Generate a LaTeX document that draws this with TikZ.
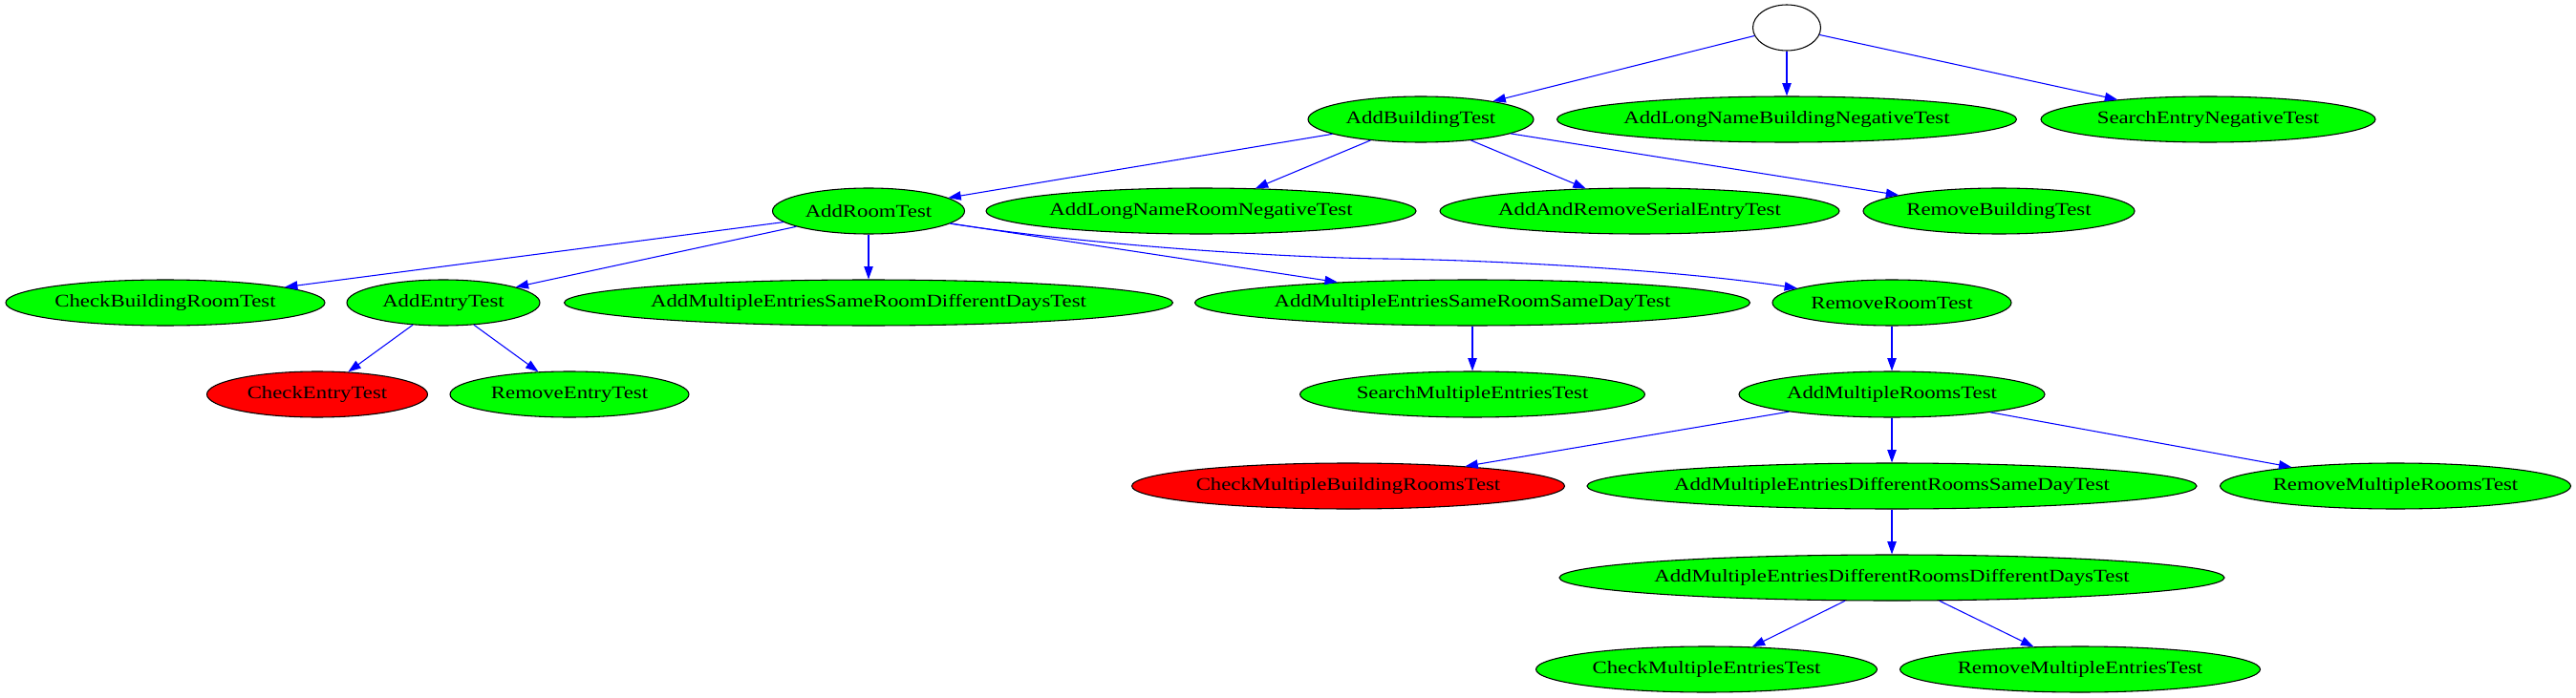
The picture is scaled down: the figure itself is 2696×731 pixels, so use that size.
\documentclass[tikz,border=0pt]{standalone}
\usepackage{fontspec}
\setmainfont{Liberation Serif}[FakeStretch=1.22]
\usetikzlibrary{shapes.geometric,arrows.meta}

\newcommand\tlbl[1]{\makebox[0pt]{#1}}

\tikzset{
  testnode/.style={
    ellipse, draw=black, line width=0.8pt, inner sep=0pt,
    minimum height=36pt, font=\fontsize{14}{16}\selectfont
  },
  testok/.style={testnode, fill=green},
  testfail/.style={testnode, fill=red},
  wd/.style={minimum width=#1*0.75pt},
  depedge/.style={draw=blue, line width=0.8pt, -{Triangle[length=10pt,width=7pt]}}
}

\begin{document}
\begin{tikzpicture}[x=0.75pt,y=-0.75pt]
\useasboundingbox (0,0) rectangle (2696,731);

\node[testnode, fill=white, wd=71] (root) at (1870,29) {};

\node[testok, wd=236] (AddBuildingTest) at (1487,125) {\tlbl{AddBuildingTest}};
\node[testok, wd=481] (AddLongNameBuildingNegativeTest) at (1870,125) {\tlbl{AddLongNameBuildingNegativeTest}};
\node[testok, wd=350] (SearchEntryNegativeTest) at (2311,125) {\tlbl{SearchEntryNegativeTest}};

\node[testok, wd=201] (AddRoomTest) at (909,221) {\tlbl{AddRoomTest}};
\node[testok, wd=450] (AddLongNameRoomNegativeTest) at (1257,221) {\tlbl{AddLongNameRoomNegativeTest}};
\node[testok, wd=418] (AddAndRemoveSerialEntryTest) at (1716,221) {\tlbl{AddAndRemoveSerialEntryTest}};
\node[testok, wd=284] (RemoveBuildingTest) at (2092,221) {\tlbl{RemoveBuildingTest}};

\node[testok, wd=334] (CheckBuildingRoomTest) at (173,317) {\tlbl{CheckBuildingRoomTest}};
\node[testok, wd=202] (AddEntryTest) at (464,317) {\tlbl{AddEntryTest}};
\node[testok, wd=637] (AddMultipleEntriesSameRoomDifferentDaysTest) at (909,317) {\tlbl{AddMultipleEntriesSameRoomDifferentDaysTest}};
\node[testok, wd=581] (AddMultipleEntriesSameRoomSameDayTest) at (1541,317) {\tlbl{AddMultipleEntriesSameRoomSameDayTest}};
\node[testok, wd=250] (RemoveRoomTest) at (1980,317) {\tlbl{RemoveRoomTest}};

\node[testfail, wd=231] (CheckEntryTest) at (332,413) {\tlbl{CheckEntryTest}};
\node[testok, wd=250] (RemoveEntryTest) at (596,413) {\tlbl{RemoveEntryTest}};
\node[testok, wd=361] (SearchMultipleEntriesTest) at (1541,413) {\tlbl{SearchMultipleEntriesTest}};
\node[testok, wd=320] (AddMultipleRoomsTest) at (1980,413) {\tlbl{AddMultipleRoomsTest}};

\node[testfail, wd=453] (CheckMultipleBuildingRoomsTest) at (1411,509) {\tlbl{CheckMultipleBuildingRoomsTest}};
\node[testok, wd=638] (AddMultipleEntriesDifferentRoomsSameDayTest) at (1980,509) {\tlbl{AddMultipleEntriesDifferentRoomsSameDayTest}};
\node[testok, wd=367] (RemoveMultipleRoomsTest) at (2507,509) {\tlbl{RemoveMultipleRoomsTest}};

\node[testok, wd=696] (AddMultipleEntriesDifferentRoomsDifferentDaysTest) at (1980,605) {\tlbl{AddMultipleEntriesDifferentRoomsDifferentDaysTest}};

\node[testok, wd=357] (CheckMultipleEntriesTest) at (1786,701) {\tlbl{CheckMultipleEntriesTest}};
\node[testok, wd=377] (RemoveMultipleEntriesTest) at (2177,701) {\tlbl{RemoveMultipleEntriesTest}};

\draw[depedge] (root) -- (AddBuildingTest);
\draw[depedge] (root) -- (AddLongNameBuildingNegativeTest);
\draw[depedge] (root) -- (SearchEntryNegativeTest);

\draw[depedge] (AddBuildingTest) -- (AddRoomTest);
\draw[depedge] (AddBuildingTest) -- (AddLongNameRoomNegativeTest);
\draw[depedge] (AddBuildingTest) -- (AddAndRemoveSerialEntryTest);
\draw[depedge] (AddBuildingTest) -- (RemoveBuildingTest);

\draw[depedge] (AddRoomTest) -- (CheckBuildingRoomTest);
\draw[depedge] (AddRoomTest) -- (AddEntryTest);
\draw[depedge] (AddRoomTest) -- (AddMultipleEntriesSameRoomDifferentDaysTest);
\draw[depedge] (AddRoomTest) -- (AddMultipleEntriesSameRoomSameDayTest);
% long edge bends under the third row
\coordinate (rrbend) at (1450,271);
\draw[depedge] (AddRoomTest) .. controls (1150,258) and (1350,270) .. (rrbend)
  .. controls (1550,272) and (1750,282) .. (RemoveRoomTest);

\draw[depedge] (AddEntryTest) -- (CheckEntryTest);
\draw[depedge] (AddEntryTest) -- (RemoveEntryTest);
\draw[depedge] (AddMultipleEntriesSameRoomSameDayTest) -- (SearchMultipleEntriesTest);
\draw[depedge] (RemoveRoomTest) -- (AddMultipleRoomsTest);

\draw[depedge] (AddMultipleRoomsTest) -- (CheckMultipleBuildingRoomsTest);
\draw[depedge] (AddMultipleRoomsTest) -- (AddMultipleEntriesDifferentRoomsSameDayTest);
\draw[depedge] (AddMultipleRoomsTest) -- (RemoveMultipleRoomsTest);
\draw[depedge] (AddMultipleEntriesDifferentRoomsSameDayTest) -- (AddMultipleEntriesDifferentRoomsDifferentDaysTest);

\draw[depedge] (AddMultipleEntriesDifferentRoomsDifferentDaysTest) -- (CheckMultipleEntriesTest);
\draw[depedge] (AddMultipleEntriesDifferentRoomsDifferentDaysTest) -- (RemoveMultipleEntriesTest);
\end{tikzpicture}
\end{document}
